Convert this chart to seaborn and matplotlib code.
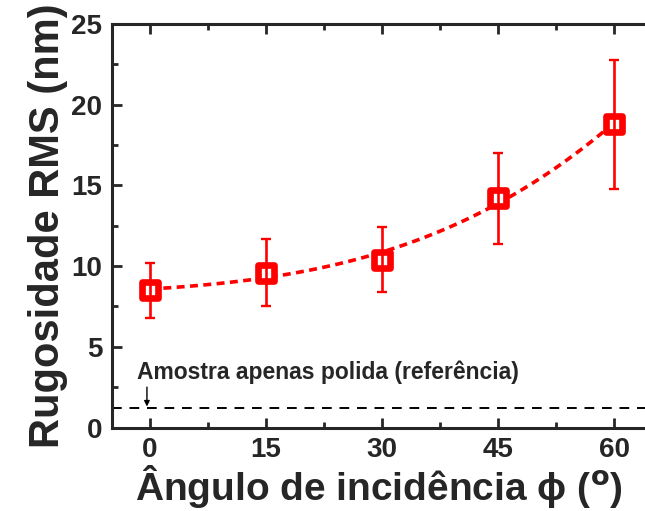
import matplotlib
matplotlib.use("Agg")
import matplotlib.pyplot as plt
import seaborn as sns
import numpy as np
import pandas as pd
from matplotlib.ticker import MultipleLocator

# Incidence angle (deg), RMS roughness (nm) and its uncertainty
angles = [0, 15, 30, 45, 60]
rms = [8.5, 9.6, 10.4, 14.2, 18.8]
rms_err = [1.7, 2.1, 2.0, 2.8, 4.0]
reference_rms = 1.2  # polished-only sample

x_ticks = [0, 15, 30, 45, 60]
y_ticks = [0, 5, 10, 15, 20, 25]

sns.set_style("ticks")
plt.rcParams["font.family"] = ["Liberation Sans", "DejaVu Sans"]
plt.rcParams["font.weight"] = "bold"
plt.rcParams["mathtext.fontset"] = "dejavusans"

df = pd.DataFrame({"angle": angles, "rms": rms, "err": rms_err})

fig = plt.figure(figsize=(6.45, 5.11), dpi=100)
ax = fig.add_axes([0.1736, 0.1634, 0.8264, 0.7896])

red = "#ff0000"

# smooth trend through the points
sns.regplot(data=df, x="angle", y="rms", order=3, ci=None, scatter=False,
            truncate=True, ax=ax,
            line_kws=dict(color=red, lw=2.6, ls=(0, (2.2, 1.5)), zorder=2))

sns.scatterplot(data=df, x="angle", y="rms", marker="s", s=130,
                facecolor="white", edgecolor=red, linewidth=4.8,
                ax=ax, zorder=3)
ax.errorbar(df["angle"], df["rms"], yerr=df["err"], fmt="none",
            ecolor=red, elinewidth=1.9, capsize=3.8, capthick=1.7, zorder=4)

# reference level
ax.axhline(reference_rms, color="black", lw=1.4, ls=(0, (5, 4)), zorder=1)
ax.annotate("", xy=(-0.4, reference_rms + 0.1), xytext=(-0.4, 2.5),
            arrowprops=dict(arrowstyle="-|>", color="black", lw=1.0,
                        mutation_scale=8, shrinkA=0, shrinkB=0))
ax.text(-1.7, 3.45, "Amostra apenas polida (referência)", fontsize=16.5,
        fontweight="bold", ha="left", va="center")

ax.set_xlim(-4.92, 64.0)
ax.set_ylim(0, 25)
ax.set_xticks(x_ticks)
ax.set_yticks(y_ticks)
ax.xaxis.set_minor_locator(MultipleLocator(7.5))
ax.yaxis.set_minor_locator(MultipleLocator(2.5))
ax.tick_params(which="both", direction="in", top=True, right=False)
ax.tick_params(which="major", length=7, width=2, labelsize=20, pad=7)
ax.tick_params(which="minor", length=4, width=2)
for lab in ax.get_xticklabels() + ax.get_yticklabels():
    lab.set_fontweight("bold")

ax.spines["right"].set_visible(False)
for side in ("left", "bottom", "top"):
    ax.spines[side].set_linewidth(2.2)

ax.set_xlabel("Ângulo de incidência ϕ ($^{\\mathbf{o}}$)", fontsize=28,
              fontweight="bold", labelpad=0)
ax.set_ylabel("Rugosidade RMS (nm)", fontsize=30, fontweight="bold",
              labelpad=2)

fig.savefig("out.png", dpi=100)
